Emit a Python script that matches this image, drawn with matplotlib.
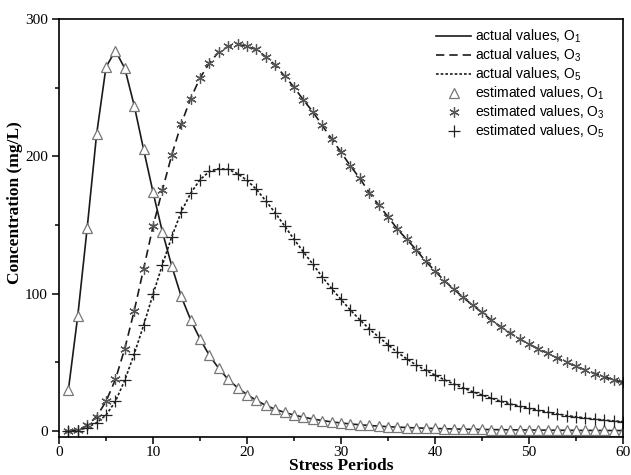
import matplotlib
matplotlib.use("Agg")
import matplotlib.pyplot as plt
from matplotlib.ticker import MultipleLocator

periods = list(range(1, 61))

o1_values = [30, 84, 148, 216, 265, 277, 264, 237, 205, 174,
             145, 120, 98, 81, 67, 55, 45.5, 37.5, 31.5, 26.5,
             22.3, 18.6, 15.8, 13.5, 11.6, 10.0, 8.7, 7.6, 6.6, 5.8,
             5.1, 4.5, 4.0, 3.5, 3.1, 2.8, 2.5, 2.2, 2.0, 1.8,
             1.6, 1.45, 1.3, 1.2, 1.1, 1.0, 0.9, 0.82, 0.75, 0.68,
             0.62, 0.57, 0.52, 0.48, 0.44, 0.4, 0.37, 0.34, 0.31, 0.29]

o3_values = [0.1, 0.8, 4, 10.5, 21.5, 37.5, 60, 87.5, 118, 149,
             175.5, 201, 223.5, 242, 257, 268, 276, 280, 281.5, 280,
             277.8, 272.5, 266.4, 258.4, 250.4, 241, 232.5, 222.5, 212.8, 203,
             193, 184, 173.6, 164.6, 156, 147, 139.5, 132, 123.5, 116.6,
             109.3, 103.3, 97.2, 91.6, 86.3, 80.7, 75.9, 71.3, 67, 63.3,
             59.8, 56.5, 53.2, 50, 47, 44.4, 41.8, 39.5, 37.3, 35.3]

o5_values = [0, 0.3, 2.5, 6, 11.5, 21.5, 37, 56, 77, 99.5,
             121, 141.5, 159.5, 173, 183, 189, 191, 190.5, 187.4, 182.5,
             176, 167.5, 158.8, 149.3, 139.6, 130.4, 121.5, 112.2, 103.8, 95.8,
             88, 81, 74.3, 68.5, 62.8, 57.2, 52.5, 48, 44.2, 40.7,
             37.3, 34.2, 31.3, 28.6, 26.2, 23.8, 21.7, 19.7, 17.9, 16.4,
             14.9, 13.6, 12.4, 11.2, 10.3, 9.4, 8.6, 7.9, 7.3, 6.8]

labels_actual = [r"actual values, O$_1$", r"actual values, O$_3$", r"actual values, O$_5$"]
labels_est = [r"estimated values, O$_1$", r"estimated values, O$_3$", r"estimated values, O$_5$"]

plt.rcParams['mathtext.fontset'] = 'custom'
plt.rcParams['mathtext.rm'] = 'Liberation Sans'
plt.rcParams['mathtext.it'] = 'Liberation Sans'

fig = plt.figure(figsize=(6.31, 4.75), dpi=100)
ax = fig.add_axes([59 / 631, 38 / 475, 564 / 631, 418 / 475])

lc = '#1a1a1a'
ax.plot(periods, o1_values, color=lc, lw=1.2, ls='-', label=labels_actual[0])
ax.plot(periods, o3_values, color=lc, lw=1.2, ls=(0, (5, 3)), label=labels_actual[1])
ax.plot(periods, o5_values, color=lc, lw=1.2, ls=(0, (1.6, 1.2)), label=labels_actual[2])

ax.plot(periods, o1_values, ls='none', marker='^', ms=6.5, mfc='white', mec='#777777', mew=0.9,
        label=labels_est[0])
ax.plot(periods, o3_values, ls='none', marker=(6, 2, 0), ms=7.5, mec='#555555', mew=0.9,
        label=labels_est[1])
ax.plot(periods, o5_values, ls='none', marker='+', ms=8, mec='#222222', mew=0.9,
        label=labels_est[2])

ax.set_xlim(0, 60)
ax.set_ylim(-4.4, 300)
ax.xaxis.set_major_locator(MultipleLocator(10))
ax.xaxis.set_minor_locator(MultipleLocator(5))
ax.yaxis.set_major_locator(MultipleLocator(100))
ax.yaxis.set_minor_locator(MultipleLocator(50))
ax.tick_params(which='both', direction='out', top=False, right=False, width=1.1)
ax.tick_params(which='major', length=5, labelsize=11)
ax.tick_params(axis='x', which='major', pad=1.5)
ax.tick_params(axis='y', which='major', pad=3)
ax.tick_params(which='minor', length=3)
for lab in ax.get_xticklabels() + ax.get_yticklabels():
    lab.set_fontfamily('Liberation Serif')
for sp in ax.spines.values():
    sp.set_linewidth(1.2)

ax.set_xlabel('Stress Periods', family='Liberation Serif', fontweight='bold', fontsize=12.5, labelpad=-1)
ax.set_ylabel('Concentration (mg/L)', family='Liberation Serif', fontweight='bold', fontsize=12.5)
ax.yaxis.set_label_coords(-0.063, 0.56)

leg = ax.legend(loc='upper right', bbox_to_anchor=(0.977, 0.993), borderaxespad=0,
                frameon=False, prop={'family': 'Liberation Sans', 'size': 10},
                handlelength=2.5, handletextpad=0.25, labelspacing=0.12)

fig.savefig('out.png', dpi=100)
